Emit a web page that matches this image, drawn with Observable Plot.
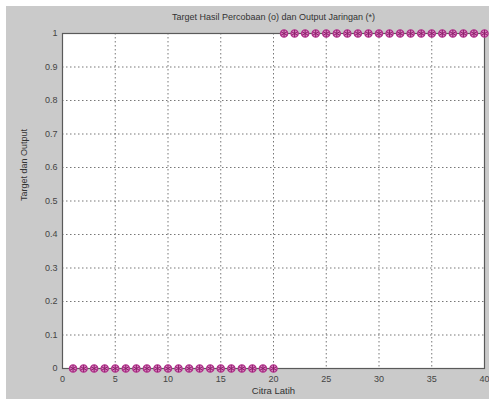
<!DOCTYPE html>
<html>
<head>
<meta charset="utf-8">
<script src="https://cdn.jsdelivr.net/npm/d3@7"></script>
<script src="https://cdn.jsdelivr.net/npm/@observablehq/plot@0.6"></script>
<style>
  html, body { margin: 0; padding: 0; background: #ffffff; }
  #fig { position: absolute; left: 6px; top: 6px; width: 483px; height: 393px; background: #cacaca; }
  #fig svg { display: block; }
</style>
</head>
<body>
<div id="fig"></div>
<script>
// Training image index (Citra Latih)
const citra = [1,2,3,4,5,6,7,8,9,10,11,12,13,14,15,16,17,18,19,20,
               21,22,23,24,25,26,27,28,29,30,31,32,33,34,35,36,37,38,39,40];
// Experimental target (o)
const target = [0,0,0,0,0,0,0,0,0,0,0,0,0,0,0,0,0,0,0,0,
                1,1,1,1,1,1,1,1,1,1,1,1,1,1,1,1,1,1,1,1];
// Network output (*)
const output = [0,0,0,0,0,0,0,0,0,0,0,0,0,0,0,0,0,0,0,0,
                1,1,1,1,1,1,1,1,1,1,1,1,1,1,1,1,1,1,1,1];

const xTicks = [0,5,10,15,20,25,30,35,40];
const yTicks = [0,0.1,0.2,0.3,0.4,0.5,0.6,0.7,0.8,0.9,1];

const targetData = citra.map((c, i) => ({c, v: target[i]}));
const outputData = citra.map((c, i) => ({c, v: output[i]}));

const magenta = "#b4348e";
const font = "Liberation Sans, Arial, sans-serif";

const chart = Plot.plot({
  width: 483,
  height: 393,
  marginLeft: 56,
  marginRight: 5,
  marginTop: 27,
  marginBottom: 31,
  style: { background: "transparent", fontFamily: font, fontSize: "9px", color: "#3a3a3a" },
  x: { domain: [0, 40], ticks: xTicks, label: null },
  y: { domain: [0, 1], ticks: yTicks, label: null },
  marks: [
    Plot.rect([0], { x1: 0, x2: 40, y1: 0, y2: 1, fill: "#ffffff" }),
    Plot.gridX(xTicks, { stroke: "#555", strokeOpacity: 0.8, strokeDasharray: "1.5,2.5" }),
    Plot.gridY(yTicks, { stroke: "#555", strokeOpacity: 0.8, strokeDasharray: "1.5,2.5" }),
    Plot.frame({ stroke: "#5a5a5a", strokeWidth: 1.2 }),
    Plot.axisX({ ticks: xTicks, tickSize: 0, tickPadding: 7, fontSize: 9, fill: "#444", label: null }),
    Plot.axisY({ ticks: yTicks, tickSize: 0, tickPadding: 5, fontSize: 9, fill: "#444", label: null,
                 tickFormat: d => d === 0 ? "0" : d === 1 ? "1" : String(d) }),
    Plot.dot(targetData, { x: "c", y: "v", r: 3.6, symbol: "circle", stroke: magenta, strokeWidth: 1.4, fill: "#d882bf" }),
    Plot.dot(outputData, { x: "c", y: "v", r: 3.4, symbol: "asterisk", stroke: "#8e1f6c", strokeWidth: 1 }),
    Plot.text(["Target Hasil Percobaan (o) dan Output Jaringan (*)"], {
      frameAnchor: "top", dy: -20, fontSize: 9, fill: "#333"
    }),
    Plot.text(["Citra Latih"], {
      frameAnchor: "bottom", dy: 25, fontSize: 9.5, fill: "#333"
    }),
    Plot.text(["Target dan Output"], {
      frameAnchor: "left", dx: -38, rotate: -90, fontSize: 9, fill: "#333"
    })
  ]
});

document.getElementById("fig").appendChild(chart);
</script>
</body>
</html>
